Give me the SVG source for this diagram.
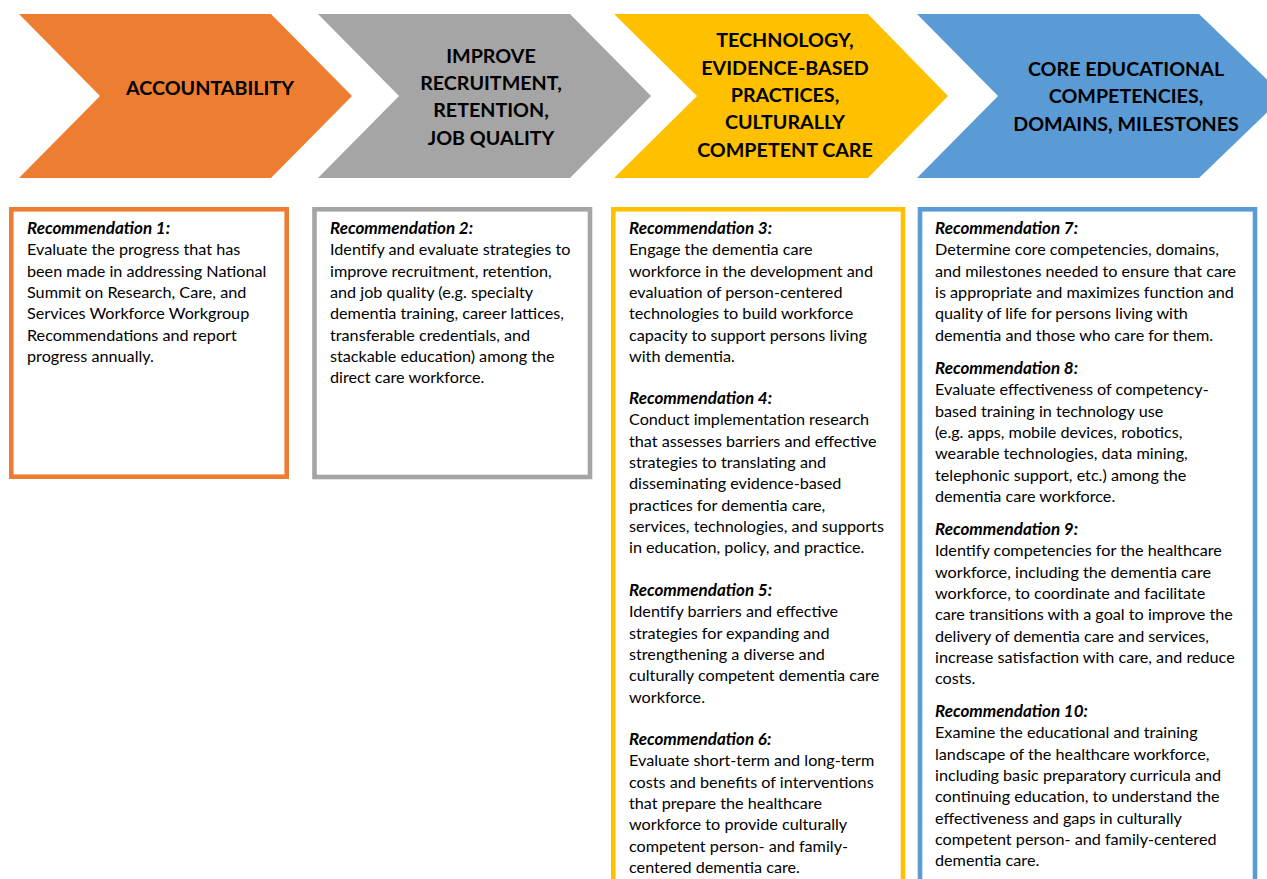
<svg xmlns="http://www.w3.org/2000/svg" width="1267" height="879" viewBox="0 0 1267 879">
<style>
.lbl{font-family:Lato,"Liberation Sans",sans-serif;font-weight:bold;font-size:19.7px;fill:#000;text-anchor:middle}
.h{font-family:Lato,"Liberation Sans",sans-serif;font-weight:bold;font-style:italic;font-size:17px;fill:#000}
.b{font-family:Lato,"Liberation Sans",sans-serif;font-size:16.2px;fill:#000}
.box{fill:#fff;stroke-width:4.6}
</style>
<rect width="1267" height="879" fill="#fff"/>
<g id="chev-accountability">
<polygon points="19,14 271,14 352,96 271,178 19,178 100,96" fill="#ED7D31"/>
<text class="lbl" x="210" y="95">ACCOUNTABILITY</text>
</g>
<g id="chev-recruitment">
<polygon points="318,14 570,14 651,96 570,178 318,178 399,96" fill="#A5A5A5"/>
<text class="lbl"><tspan x="491" y="63">IMPROVE</tspan><tspan x="491" y="90">RECRUITMENT,</tspan><tspan x="491" y="117">RETENTION,</tspan><tspan x="491" y="145">JOB QUALITY</tspan></text>
</g>
<g id="chev-technology">
<polygon points="614,14 868,14 948,96 868,178 614,178 697,96" fill="#FFC000"/>
<text class="lbl"><tspan x="785" y="47">TECHNOLOGY,</tspan><tspan x="785" y="75">EVIDENCE-BASED</tspan><tspan x="785" y="102">PRACTICES,</tspan><tspan x="785" y="129">CULTURALLY</tspan><tspan x="785" y="157">COMPETENT CARE</tspan></text>
</g>
<g id="chev-core">
<polygon points="917,14 1199,14 1284,96 1199,178 917,178 998,96" fill="#5B9BD5"/>
<text class="lbl"><tspan x="1126" y="76">CORE EDUCATIONAL</tspan><tspan x="1126" y="103">COMPETENCIES,</tspan><tspan x="1126" y="131">DOMAINS, MILESTONES</tspan></text>
</g>
<g id="box-1">
<rect class="box" x="11.3" y="209.3" width="275.4" height="267.4" stroke="#ED7D31"/>
<text class="h" x="27" y="234">Recommendation 1:</text>
<text class="b"><tspan x="27" y="255.3">Evaluate the progress that has</tspan><tspan x="27" y="276.6">been made in addressing National</tspan><tspan x="27" y="297.9">Summit on Research, Care, and</tspan><tspan x="27" y="319.2">Services Workforce Workgroup</tspan><tspan x="27" y="340.5">Recommendations and report</tspan><tspan x="27" y="361.8">progress annually.</tspan></text>
</g>
<g id="box-2">
<rect class="box" x="314.5" y="209.3" width="275.5" height="267.7" stroke="#A5A5A5"/>
<text class="h" x="330" y="234">Recommendation 2:</text>
<text class="b"><tspan x="330" y="255.3">Identify and evaluate strategies to</tspan><tspan x="330" y="276.6">improve recruitment, retention,</tspan><tspan x="330" y="297.9">and job quality (e.g. specialty</tspan><tspan x="330" y="319.2">dementia training, career lattices,</tspan><tspan x="330" y="340.5">transferable credentials, and</tspan><tspan x="330" y="361.8">stackable education) among the</tspan><tspan x="330" y="383.1">direct care workforce.</tspan></text>
</g>
<g id="box-3">
<rect class="box" x="613.3" y="209.3" width="289.7" height="690" stroke="#FFC000"/>
<text class="h" x="629" y="234">Recommendation 3:</text>
<text class="b"><tspan x="629" y="255.3">Engage the dementia care</tspan><tspan x="629" y="276.6">workforce in the development and</tspan><tspan x="629" y="297.9">evaluation of person-centered</tspan><tspan x="629" y="319.2">technologies to build workforce</tspan><tspan x="629" y="340.5">capacity to support persons living</tspan><tspan x="629" y="361.8">with dementia.</tspan></text>
<text class="h" x="629" y="404">Recommendation 4:</text>
<text class="b"><tspan x="629" y="425.3">Conduct implementation research</tspan><tspan x="629" y="446.6">that assesses barriers and effective</tspan><tspan x="629" y="467.9">strategies to translating and</tspan><tspan x="629" y="489.2">disseminating evidence-based</tspan><tspan x="629" y="510.5">practices for dementia care,</tspan><tspan x="629" y="531.8">services, technologies, and supports</tspan><tspan x="629" y="553.1">in education, policy, and practice.</tspan></text>
<text class="h" x="629" y="596">Recommendation 5:</text>
<text class="b"><tspan x="629" y="617.3">Identify barriers and effective</tspan><tspan x="629" y="638.6">strategies for expanding and</tspan><tspan x="629" y="659.9">strengthening a diverse and</tspan><tspan x="629" y="681.2">culturally competent dementia care</tspan><tspan x="629" y="702.5">workforce.</tspan></text>
<text class="h" x="629" y="745">Recommendation 6:</text>
<text class="b"><tspan x="629" y="766.3">Evaluate short-term and long-term</tspan><tspan x="629" y="787.6">costs and benefits of interventions</tspan><tspan x="629" y="808.9">that prepare the healthcare</tspan><tspan x="629" y="830.2">workforce to provide culturally</tspan><tspan x="629" y="851.5">competent person- and family-</tspan><tspan x="629" y="872.8">centered dementia care.</tspan></text>
</g>
<g id="box-4">
<rect class="box" x="920" y="209.3" width="335" height="690" stroke="#5B9BD5"/>
<text class="h" x="935" y="234">Recommendation 7:</text>
<text class="b"><tspan x="935" y="255.3">Determine core competencies, domains,</tspan><tspan x="935" y="276.6">and milestones needed to ensure that care</tspan><tspan x="935" y="297.9">is appropriate and maximizes function and</tspan><tspan x="935" y="319.2">quality of life for persons living with</tspan><tspan x="935" y="340.5">dementia and those who care for them.</tspan></text>
<text class="h" x="935" y="374">Recommendation 8:</text>
<text class="b"><tspan x="935" y="395.3">Evaluate effectiveness of competency-</tspan><tspan x="935" y="416.6">based training in technology use</tspan><tspan x="935" y="437.9">(e.g. apps, mobile devices, robotics,</tspan><tspan x="935" y="459.2">wearable technologies, data mining,</tspan><tspan x="935" y="480.5">telephonic support, etc.) among the</tspan><tspan x="935" y="501.8">dementia care workforce.</tspan></text>
<text class="h" x="935" y="535">Recommendation 9:</text>
<text class="b"><tspan x="935" y="556.3">Identify competencies for the healthcare</tspan><tspan x="935" y="577.6">workforce, including the dementia care</tspan><tspan x="935" y="598.9">workforce, to coordinate and facilitate</tspan><tspan x="935" y="620.2">care transitions with a goal to improve the</tspan><tspan x="935" y="641.5">delivery of dementia care and services,</tspan><tspan x="935" y="662.8">increase satisfaction with care, and reduce</tspan><tspan x="935" y="684.1">costs.</tspan></text>
<text class="h" x="935" y="717">Recommendation 10:</text>
<text class="b"><tspan x="935" y="738.3">Examine the educational and training</tspan><tspan x="935" y="759.6">landscape of the healthcare workforce,</tspan><tspan x="935" y="780.9">including basic preparatory curricula and</tspan><tspan x="935" y="802.2">continuing education, to understand the</tspan><tspan x="935" y="823.5">effectiveness and gaps in culturally</tspan><tspan x="935" y="844.8">competent person- and family-centered</tspan><tspan x="935" y="866.1">dementia care.</tspan></text>
</g>
</svg>
